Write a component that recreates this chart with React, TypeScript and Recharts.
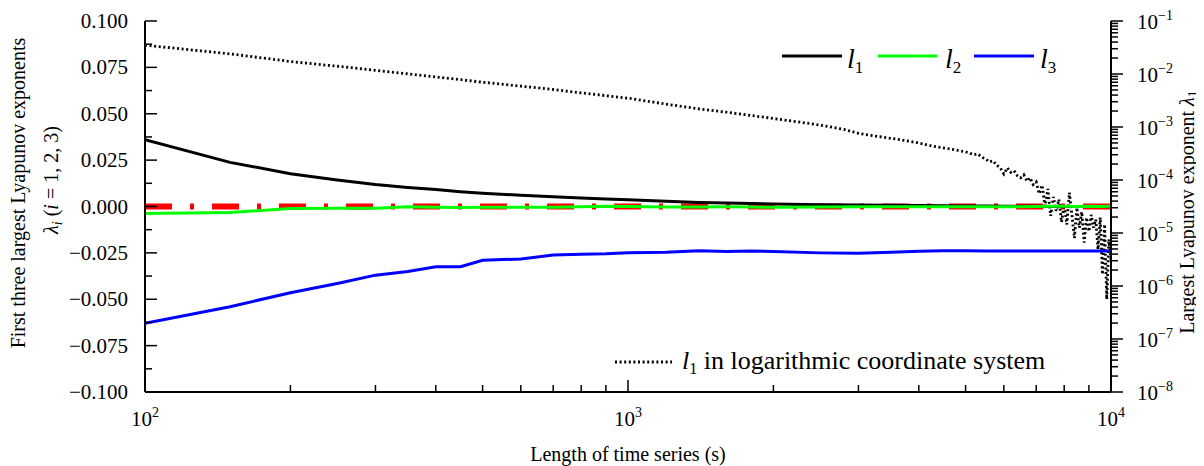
import React from "react";
import { LineChart, Line, XAxis, YAxis } from "recharts";

const FONT = '"Liberation Serif", "Times New Roman", serif';

// length of time series (s)
const lengths = [
  100, 150, 200, 250, 300, 350, 400, 450, 500, 600, 700, 800, 900, 1000, 1200, 1400, 1600, 1800,
  2000, 2500, 3000, 3500, 4000, 4500, 5000, 5500, 6000, 6500, 7000, 7500, 8000, 8500, 9000, 9500, 10000,
];
const l1Values = [
  0.036, 0.0238, 0.0177, 0.0143, 0.0118, 0.0103, 0.0091, 0.008, 0.0072, 0.006, 0.0052, 0.0046, 0.0041,
  0.0036, 0.0028, 0.0022, 0.0019, 0.0016, 0.0014, 0.001, 0.00078, 0.00062, 0.0005, 0.0004, 0.00033,
  0.00025, 0.00015, 0.0001, 0.00007, 0.00004, 0.00003, 0.00002, 0.00002, 0.00001, 0.00001,
];
const l2Values = [
  -0.0038, -0.0032, -0.0011, -0.001, -0.001, -0.0002, -0.0004, -0.0005, -0.0004, -0.0004, -0.0004,
  -0.0002, 0.0001, 0, -0.0003, -0.0003, -0.0002, -0.0003, -0.0004, -0.0003, -0.0002, -0.0002, -0.0002,
  -0.0001, -0.0002, -0.0002, -0.0001, -0.0001, 0, 0.0002, 0.0001, 0, 0.0001, 0, 0.0001,
];
const l3Values = [
  -0.063, -0.054, -0.0465, -0.0415, -0.037, -0.035, -0.0325, -0.0325, -0.029, -0.0283, -0.0262,
  -0.0258, -0.0255, -0.0249, -0.0247, -0.0238, -0.0243, -0.024, -0.0242, -0.025, -0.0252, -0.0247,
  -0.0241, -0.0238, -0.0238, -0.024, -0.024, -0.024, -0.024, -0.024, -0.024, -0.024, -0.024, -0.024, -0.024,
];

// l1 again, plotted on the logarithmic right axis
const logLengths = [
  100, 150, 200, 250, 300, 350, 400, 450, 500, 600, 700, 800, 900, 1000, 1200, 1400, 1600, 1800, 2000,
  2200, 2400, 2600, 2800, 3000, 3300, 3600, 4000, 4300, 4600,
  5000, 5100, 5200, 5300, 5400, 5500, 5600, 5700, 5800, 5900,
  6000, 6100, 6200, 6300, 6400, 6500, 6600, 6700, 6800, 6900,
  7000, 7100, 7200, 7300, 7400, 7500, 7600, 7700, 7800, 7900,
  8000, 8100, 8200, 8300, 8400, 8500, 8600, 8700, 8800, 8900,
  9000, 9100, 9200, 9300, 9400, 9500, 9600, 9700, 9800, 9900, 10000,
];
const logL1Values = [
  0.035, 0.024, 0.0172, 0.014, 0.0117, 0.0101, 0.0088, 0.0078, 0.007, 0.0059, 0.0051, 0.0044, 0.0039,
  0.0035, 0.0027, 0.0022, 0.0019, 0.00165, 0.00145, 0.00128, 0.00115, 0.00102, 0.0009, 0.00076, 0.00066,
  0.00059, 0.0005, 0.00043, 0.00039,
  3.4e-4, 3.2e-4, 3.0e-4, 3.1e-4, 2.7e-4, 2.5e-4, 2.2e-4, 2.3e-4, 1.9e-4, 1.7e-4,
  1.3e-4, 1.7e-4, 1.4e-4, 1.5e-4, 1.2e-4, 1.1e-4, 1.25e-4, 9.5e-5, 1.1e-4, 8.2e-5,
  9.2e-5, 5.5e-5, 8e-5, 3.2e-5, 6.8e-5, 2.1e-5, 4.8e-5, 2.6e-5, 4.3e-5, 1.6e-5,
  3.4e-5, 1.45e-5, 5.8e-5, 2.2e-5, 8e-6, 3e-5, 1.26e-5, 2.5e-5, 6.6e-6, 1.95e-5,
  1.07e-5, 2.2e-5, 1.26e-5, 1.8e-5, 4.9e-6, 1.95e-5, 1.66e-6, 1.45e-5, 5.6e-7, 7.6e-6,
  2.9e-6,
];

// zero reference
const zeroLengths = [100, 10000];
const zeroValues = [0, 0];

// ticks
const xTicks = [100, 200, 300, 400, 500, 600, 700, 800, 900, 1000, 2000, 3000, 4000, 5000, 6000, 7000, 8000, 9000, 10000];
const xMajor = [100, 1000, 10000];
const leftTicks = [
  -0.1, -0.0875, -0.075, -0.0625, -0.05, -0.0375, -0.025, -0.0125, 0, 0.0125, 0.025, 0.0375, 0.05,
  0.0625, 0.075, 0.0875, 0.1,
];
const leftMajor = [-0.1, -0.075, -0.05, -0.025, 0, 0.025, 0.05, 0.075, 0.1];
const rightDecades = [1e-8, 1e-7, 1e-6, 1e-5, 1e-4, 1e-3, 1e-2, 1e-1];
const rightMinorSteps = [2, 3, 4, 5, 6, 7, 8, 9];

const rightTicks: number[] = [];
rightDecades.forEach((d, i) => {
  rightTicks.push(d);
  if (i < rightDecades.length - 1) rightMinorSteps.forEach((m) => rightTicks.push(d * m));
});

const mainData = lengths.map((len, i) => ({ len, l1: l1Values[i], l2: l2Values[i], l3: l3Values[i] }));
const logData = logLengths.map((len, i) => ({ len, v: logL1Values[i] }));
const zeroData = zeroLengths.map((len, i) => ({ len, z: zeroValues[i] }));

const near = (a: number, list: number[]) => list.some((b) => Math.abs(a - b) < Math.abs(b) * 1e-6 + 1e-9);

const XTick = (props: any) => {
  const { x, y, payload } = props;
  const v = payload.value;
  const major = near(v, xMajor);
  return (
    <g>
      <line x1={x} x2={x} y1={y} y2={y - (major ? 12 : 7)} stroke="#000" strokeWidth={1.5} />
      {major && (
        <text x={x} y={y + 34} textAnchor="middle" fontFamily={FONT} fontSize={21} fill="#000">
          10
          <tspan dy={-9} fontSize={14}>
            {Math.round(Math.log10(v))}
          </tspan>
        </text>
      )}
    </g>
  );
};

const LeftTick = (props: any) => {
  const { x, y, payload } = props;
  const v = payload.value;
  const major = near(v, leftMajor);
  const label = (v < 0 ? "\u2212" : "") + Math.abs(v).toFixed(3);
  return (
    <g>
      <line x1={x} x2={x + (major ? 12 : 7)} y1={y} y2={y} stroke="#000" strokeWidth={1.5} />
      {major && (
        <text x={x - 17} y={y} dy={7} textAnchor="end" fontFamily={FONT} fontSize={21} fill="#000">
          {label}
        </text>
      )}
    </g>
  );
};

const RightTick = (props: any) => {
  const { x, y, payload } = props;
  const v = payload.value;
  const major = near(v, rightDecades);
  const exp = Math.round(Math.log10(v));
  return (
    <g>
      <line x1={x} x2={x + (major ? 12 : 7)} y1={y} y2={y} stroke="#000" strokeWidth={1.5} />
      {major && (
        <text x={x + 26} y={y} dy={8} fontFamily={FONT} fontSize={21} fill="#000">
          10
          <tspan dy={-9} fontSize={14}>
            {"\u2212" + Math.abs(exp)}
          </tspan>
        </text>
      )}
    </g>
  );
};

export default function App() {
  const W = 1196;
  const H = 458;
  return (
    <div style={{ position: "relative", width: W, height: H, background: "#fff" }}>
      <LineChart width={W} height={H} data={mainData} margin={{ top: 13, right: 0, left: 0, bottom: 0 }}>
        <XAxis
          dataKey="len"
          type="number"
          scale="log"
          domain={[100, 10000]}
          ticks={xTicks}
          interval={0}
          allowDataOverflow
          height={74}
          tickSize={0}
          tickMargin={0}
          tickLine={false}
          axisLine={{ stroke: "#000", strokeWidth: 2 }}
          tick={<XTick />}
        />
        <YAxis
          yAxisId="left"
          type="number"
          domain={[-0.1, 0.1]}
          ticks={leftTicks}
          interval={0}
          allowDataOverflow
          width={137}
          tickSize={0}
          tickMargin={0}
          tickLine={false}
          axisLine={{ stroke: "#000", strokeWidth: 2 }}
          tick={<LeftTick />}
        />
        <YAxis
          yAxisId="right"
          orientation="right"
          type="number"
          scale="log"
          domain={[1e-8, 1e-1]}
          ticks={rightTicks}
          interval={0}
          allowDataOverflow
          width={93}
          tickSize={0}
          tickMargin={0}
          tickLine={false}
          axisLine={{ stroke: "#000", strokeWidth: 2 }}
          tick={<RightTick />}
        />
        <Line
          yAxisId="left"
          data={zeroData}
          dataKey="z"
          type="linear"
          stroke="#ff0000"
          strokeWidth={6}
          strokeDasharray="27 18 4 18"
          dot={false}
          isAnimationActive={false}
        />
        <Line
          yAxisId="right"
          data={logData}
          dataKey="v"
          type="linear"
          stroke="#000"
          strokeWidth={2.8}
          strokeDasharray="2 2.6"
          dot={false}
          isAnimationActive={false}
        />
        <Line yAxisId="left" dataKey="l1" type="linear" stroke="#000" strokeWidth={3} dot={false} isAnimationActive={false} />
        <Line yAxisId="left" dataKey="l2" type="linear" stroke="#00ff00" strokeWidth={3} dot={false} isAnimationActive={false} />
        <Line yAxisId="left" dataKey="l3" type="linear" stroke="#0000ff" strokeWidth={3} dot={false} isAnimationActive={false} />
      </LineChart>

      <svg
        width={W}
        height={H}
        style={{ position: "absolute", left: 0, top: 0, pointerEvents: "none" }}
        fontFamily={FONT}
        fill="#000"
      >
        {/* axis titles */}
        <text transform="translate(17,185) rotate(-90)" textAnchor="middle" fontSize={20}>
          First three largest Lyapunov exponents
        </text>
        <text transform="translate(50,172) rotate(-90)" textAnchor="middle" fontSize={20}>
          <tspan fontStyle="italic">λ</tspan>
          <tspan fontStyle="italic" fontSize={14} dy={4}>
            i
          </tspan>
          <tspan dy={-4}> (</tspan>
          <tspan fontStyle="italic">i</tspan>
          <tspan> = 1, 2, 3)</tspan>
        </text>
        <text transform="translate(1186,204) rotate(-90)" textAnchor="middle" fontSize={20}>
          Largest Lyapunov exponent <tspan fontStyle="italic">λ</tspan>
          <tspan fontSize={14} dy={4}>
            1
          </tspan>
        </text>
        <text x={620} y={453} textAnchor="middle" fontSize={20}>
          Length of time series (s)
        </text>

        {/* legend */}
        <line x1={774} x2={834} y1={48} y2={48} stroke="#000" strokeWidth={3} />
        <text x={839} y={60} fontSize={28} fontStyle="italic">
          l<tspan fontStyle="normal" fontSize={17} dy={5}>1</tspan>
        </text>
        <line x1={870} x2={929} y1={48} y2={48} stroke="#00ff00" strokeWidth={3} />
        <text x={937} y={60} fontSize={28} fontStyle="italic">
          l<tspan fontStyle="normal" fontSize={17} dy={5}>2</tspan>
        </text>
        <line x1={966} x2={1026} y1={48} y2={48} stroke="#0000ff" strokeWidth={3} />
        <text x={1032} y={60} fontSize={28} fontStyle="italic">
          l<tspan fontStyle="normal" fontSize={17} dy={5}>3</tspan>
        </text>

        <line x1={607} x2={664} y1={354} y2={354} stroke="#000" strokeWidth={2.8} strokeDasharray="2 2.6" />
        <text x={674} y={361} fontSize={26}>
          <tspan fontStyle="italic">l</tspan>
          <tspan fontSize={16} dy={5}>1</tspan>
          <tspan dy={-5}> in logarithmic coordinate system</tspan>
        </text>
      </svg>
    </div>
  );
}
